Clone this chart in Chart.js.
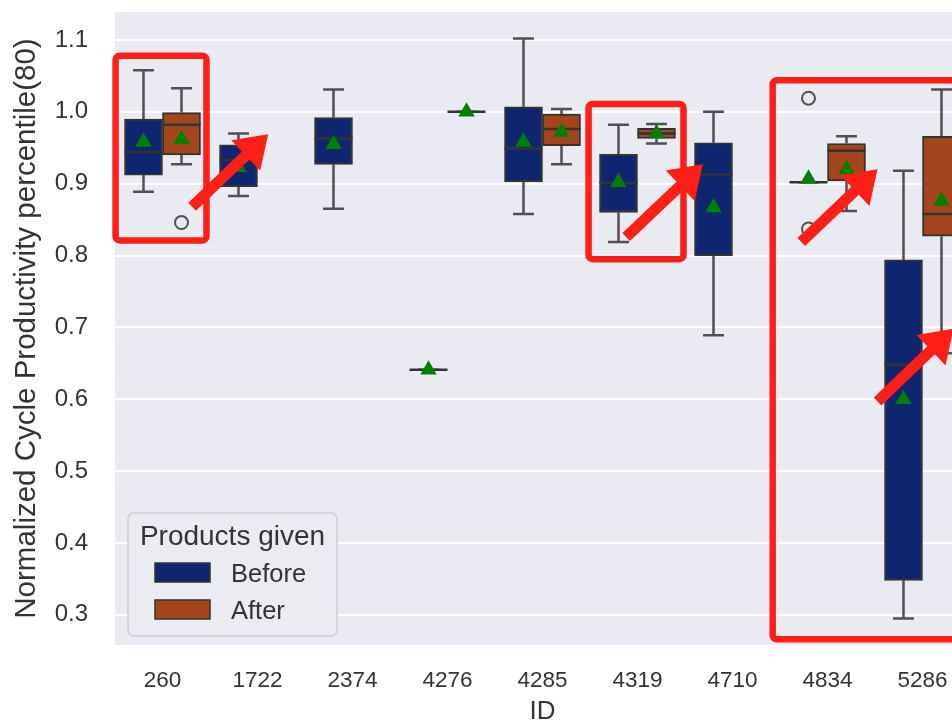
<!DOCTYPE html>
<html><head><meta charset="utf-8">
<script src="https://cdn.jsdelivr.net/npm/chart.js@4/dist/chart.umd.min.js"></script>
<style>
html,body{margin:0;padding:0;background:#fff;overflow:hidden;width:952px;height:725px;}
#wrap{position:relative;width:980px;height:725px;}
canvas{display:block;}
</style></head><body>
<div id="wrap"><canvas id="c" width="980" height="725" style="width:980px;height:725px"></canvas></div>
<script>
// ---------------- data ----------------
const ids = ['260','1722','2374','4276','4285','4319','4710','4834','5286'];
const yTicks = [0.3,0.4,0.5,0.6,0.7,0.8,0.9,1.0,1.1];

// "Before" group (whisker low, Q1, median, Q3, whisker high, mean)
const beforeLo   = [0.889,0.883,0.865,0.641,0.858,0.819,0.689,0.902,0.295];
const beforeQ1   = [0.912,0.896,0.927,0.641,0.903,0.860,0.800,0.902,0.348];
const beforeMed  = [0.944,0.933,0.963,0.641,0.949,0.901,0.913,0.902,0.648];
const beforeQ3   = [0.990,0.954,0.992,0.641,1.007,0.941,0.957,0.902,0.794];
const beforeHi   = [1.058,0.970,1.031,0.641,1.102,0.982,1.000,0.902,0.918];
const beforeMean = [0.958,0.923,0.955,0.641,0.958,0.902,0.867,0.907,0.600];
const beforeOut  = [[],[],[],[],[],[],[],[1.019,0.837],[]];

// "After" group
const afterLo   = [0.927,null,null,1.000,0.927,0.956,null,0.862,0.664];
const afterQ1   = [0.940,null,null,1.000,0.953,0.963,null,0.904,0.827];
const afterMed  = [0.982,null,null,1.000,0.976,0.970,null,0.946,0.858];
const afterQ3   = [0.999,null,null,1.000,0.997,0.977,null,0.956,0.966];
const afterHi   = [1.033,null,null,1.000,1.004,0.983,null,0.966,1.031];
const afterMean = [0.962,null,null,1.000,0.972,0.970,null,0.920,0.876];
const afterOut  = [[0.846],[],[],[],[],[],[],[],[]];

// red annotations (x in category-index units, y in data units)
const annoRectX0 = [-0.494, 4.485, 6.423];
const annoRectX1 = [ 0.463, 5.484, 9.600];
const annoRectY0 = [ 1.078, 1.011, 1.044];
const annoRectY1 = [ 0.821, 0.795, 0.266];
const arrowX0 = [0.312, 4.881, 6.724, 7.527];
const arrowY0 = [0.868, 0.826, 0.819, 0.597];
const arrowX1 = [1.112, 5.687, 7.526, 8.326];
const arrowY1 = [0.969, 0.927, 0.920, 0.698];

// ---------------- style ----------------
const FONT = "'Liberation Sans', Arial, sans-serif";
const TXT = '#333333';
const BG = '#eaeaf2';
const BEFORE_COL = '#10256f';
const AFTER_COL = '#a4451e';
const EDGE = '#333333';
const WHISK = '#505050';
const HUE_OFF = 0.2, HALF_BOX = 0.2, CAP = 0.11;

function hx(i,h){ return i + (h===0 ? -HUE_OFF : HUE_OFF); }
function boxes(q1,q3,h){
  return q1.map((v,i)=> v==null ? null : {x:hx(i,h), y:[q1[i], q3[i]]}).filter(d=>d);
}
function whiskers(lo,q1,q3,hi,h){
  const p=[];
  lo.forEach((v,i)=>{
    if(v==null) return;
    const x=hx(i,h);
    p.push({x,y:q3[i]},{x,y:hi[i]},{x,y:null});
    p.push({x:x-CAP,y:hi[i]},{x:x+CAP,y:hi[i]},{x,y:null});
    p.push({x,y:q1[i]},{x,y:lo[i]},{x,y:null});
    p.push({x:x-CAP,y:lo[i]},{x:x+CAP,y:lo[i]},{x,y:null});
  });
  return p;
}
function medians(med,h){
  const p=[];
  med.forEach((v,i)=>{
    if(v==null) return;
    const x=hx(i,h);
    p.push({x:x-HALF_BOX,y:v},{x:x+HALF_BOX,y:v},{x,y:null});
  });
  return p;
}
function means(mean,h){
  return mean.map((v,i)=> v==null?null:{x:hx(i,h),y:v}).filter(d=>d);
}
function outliers(out,h){
  const p=[];
  out.forEach((arr,i)=>arr.forEach(v=>p.push({x:hx(i,h),y:v})));
  return p;
}

const bgPlugin = {
  id:'bg',
  beforeDraw(chart){
    const {ctx,chartArea:a}=chart;
    ctx.save(); ctx.fillStyle=BG; ctx.fillRect(a.left,a.top,a.right-a.left,a.bottom-a.top); ctx.restore();
  }
};

const legendPlugin = {
  id:'boxLegend',
  afterDatasetsDraw(chart){
    const {ctx,chartArea:a}=chart;
    const x0=a.left+13, w=209, h=123, y0=a.bottom-9-h;
    ctx.save();
    ctx.beginPath(); ctx.roundRect(x0,y0,w,h,6);
    ctx.fillStyle='rgba(234,234,242,0.92)'; ctx.fill();
    ctx.lineWidth=1.5; ctx.strokeStyle='#cdcdd5'; ctx.stroke();
    ctx.fillStyle=TXT; ctx.textBaseline='alphabetic';
    ctx.font="28px "+FONT; ctx.textAlign='center';
    ctx.fillText('Products given', x0+w/2, y0+32);
    const items=[{t:chart.data.datasets[0].label,c:BEFORE_COL},{t:chart.data.datasets[1].label,c:AFTER_COL}];
    ctx.font="25.5px "+FONT; ctx.textAlign='left';
    items.forEach((it,k)=>{
      const py=y0+50+k*37;
      ctx.fillStyle=it.c; ctx.fillRect(x0+27,py,55,19);
      ctx.strokeStyle=EDGE; ctx.lineWidth=1.5; ctx.strokeRect(x0+27,py,55,19);
      ctx.fillStyle=TXT; ctx.fillText(it.t, x0+103, py+18.5);
    });
    ctx.restore();
  }
};

const annoPlugin = {
  id:'anno',
  afterDraw(chart){
    const {ctx}=chart, xs=chart.scales.xl, ys=chart.scales.y;
    ctx.save();
    ctx.strokeStyle='#ff1f17'; ctx.fillStyle='#ff1f17'; ctx.lineWidth=6.5; ctx.lineJoin='round';
    annoRectX0.forEach((_,k)=>{
      const x0=xs.getPixelForValue(annoRectX0[k]), x1=xs.getPixelForValue(annoRectX1[k]);
      const y0=ys.getPixelForValue(annoRectY0[k]), y1=ys.getPixelForValue(annoRectY1[k]);
      ctx.beginPath(); ctx.roundRect(x0,y0,x1-x0,y1-y0,4); ctx.stroke();
    });
    arrowX0.forEach((_,k)=>{
      const tx=xs.getPixelForValue(arrowX0[k]), ty=ys.getPixelForValue(arrowY0[k]);
      const hx_=xs.getPixelForValue(arrowX1[k]), hy=ys.getPixelForValue(arrowY1[k]);
      const dx=hx_-tx, dy=hy-ty, L=Math.hypot(dx,dy), ux=dx/L, uy=dy/L, nx=-uy, ny=ux;
      const sw=5.5, hw=21, hl=31;
      const bx=hx_-ux*hl, by=hy-uy*hl;
      ctx.beginPath();
      ctx.moveTo(tx+nx*sw,ty+ny*sw);
      ctx.lineTo(bx+nx*sw,by+ny*sw);
      ctx.lineTo(bx+nx*hw,by+ny*hw);
      ctx.lineTo(hx_,hy);
      ctx.lineTo(bx-nx*hw,by-ny*hw);
      ctx.lineTo(bx-nx*sw,by-ny*sw);
      ctx.lineTo(tx-nx*sw,ty-ny*sw);
      ctx.closePath(); ctx.fill();
    });
    ctx.restore();
  }
};

Chart.defaults.font.family = FONT;
Chart.defaults.color = TXT;

const boxOpts = {xAxisID:'xl', yAxisID:'y', grouped:false, categoryPercentage:1.0, barPercentage:1.0,
                 borderColor:EDGE, borderWidth:2, borderSkipped:false, order:3};

new Chart(document.getElementById('c'), {
  type:'bar',
  data:{
    labels: ids,
    datasets:[
      Object.assign({label:'Before', data:boxes(beforeQ1,beforeQ3,0), backgroundColor:BEFORE_COL}, boxOpts),
      Object.assign({label:'After', data:boxes(afterQ1,afterQ3,1), backgroundColor:AFTER_COL}, boxOpts),
      {type:'line', label:'wb', data:whiskers(beforeLo,beforeQ1,beforeQ3,beforeHi,0), xAxisID:'xl', yAxisID:'y',
       borderColor:WHISK, borderWidth:2.5, pointRadius:0, spanGaps:false, fill:false, order:4},
      {type:'line', label:'wa', data:whiskers(afterLo,afterQ1,afterQ3,afterHi,1), xAxisID:'xl', yAxisID:'y',
       borderColor:WHISK, borderWidth:2.5, pointRadius:0, spanGaps:false, fill:false, order:4},
      {type:'line', label:'mb', data:medians(beforeMed,0), xAxisID:'xl', yAxisID:'y',
       borderColor:EDGE, borderWidth:2.5, pointRadius:0, spanGaps:false, fill:false, order:2},
      {type:'line', label:'ma', data:medians(afterMed,1), xAxisID:'xl', yAxisID:'y',
       borderColor:EDGE, borderWidth:2.5, pointRadius:0, spanGaps:false, fill:false, order:2},
      {type:'scatter', label:'ob', data:outliers(beforeOut,0), xAxisID:'xl', yAxisID:'y',
       pointStyle:'circle', pointRadius:6.5, pointBorderWidth:2, pointBorderColor:WHISK, pointBackgroundColor:'rgba(0,0,0,0)', order:1},
      {type:'scatter', label:'oa', data:outliers(afterOut,1), xAxisID:'xl', yAxisID:'y',
       pointStyle:'circle', pointRadius:6.5, pointBorderWidth:2, pointBorderColor:WHISK, pointBackgroundColor:'rgba(0,0,0,0)', order:1},
      {type:'scatter', label:'meanb', data:means(beforeMean,0), xAxisID:'xl', yAxisID:'y',
       pointStyle:'triangle', pointRadius:9.5, pointBorderWidth:0, pointBackgroundColor:'#008000', order:0},
      {type:'scatter', label:'meana', data:means(afterMean,1), xAxisID:'xl', yAxisID:'y',
       pointStyle:'triangle', pointRadius:9.5, pointBorderWidth:0, pointBackgroundColor:'#008000', order:0}
    ]
  },
  options:{
    responsive:false, animation:false, devicePixelRatio:1,
    layout:{padding:{left:0,right:10,top:12,bottom:0}},
    plugins:{legend:{display:false}, tooltip:{enabled:false}},
    scales:{
      x:{type:'category', offset:true,
         grid:{display:false, drawTicks:false}, border:{display:false},
         ticks:{font:{size:22.5}, color:TXT, padding:22, maxRotation:0, autoSkip:false},
         title:{display:true, text:'ID', font:{size:26, lineHeight:1.0}, color:TXT, padding:{top:0,bottom:0}},
         afterFit(s){ s.height=80; s.paddingLeft=0; s.paddingRight=0; }},
      xl:{type:'linear', min:-0.5, max:ids.length-0.5, display:false, offset:false, ticks:{stepSize:1}},
      y:{type:'linear', min:0.258, max:1.139,
         afterBuildTicks(s){ s.ticks = yTicks.map(v=>({value:v})); },
         grid:{color:'#ffffff', lineWidth:2, drawTicks:false}, border:{display:false},
         ticks:{font:{size:24}, color:TXT, padding:27, callback:v=>Number(v).toFixed(1)},
         title:{display:true, text:'Normalized Cycle Productivity percentile(80)', font:{size:29.5, lineHeight:1.0}, color:TXT, padding:{top:12,bottom:0}},
         afterFit(s){ s.width=115; s.paddingTop=0; s.paddingBottom=0; }}
    }
  },
  plugins:[bgPlugin, legendPlugin, annoPlugin]
});
</script>
</body></html>
